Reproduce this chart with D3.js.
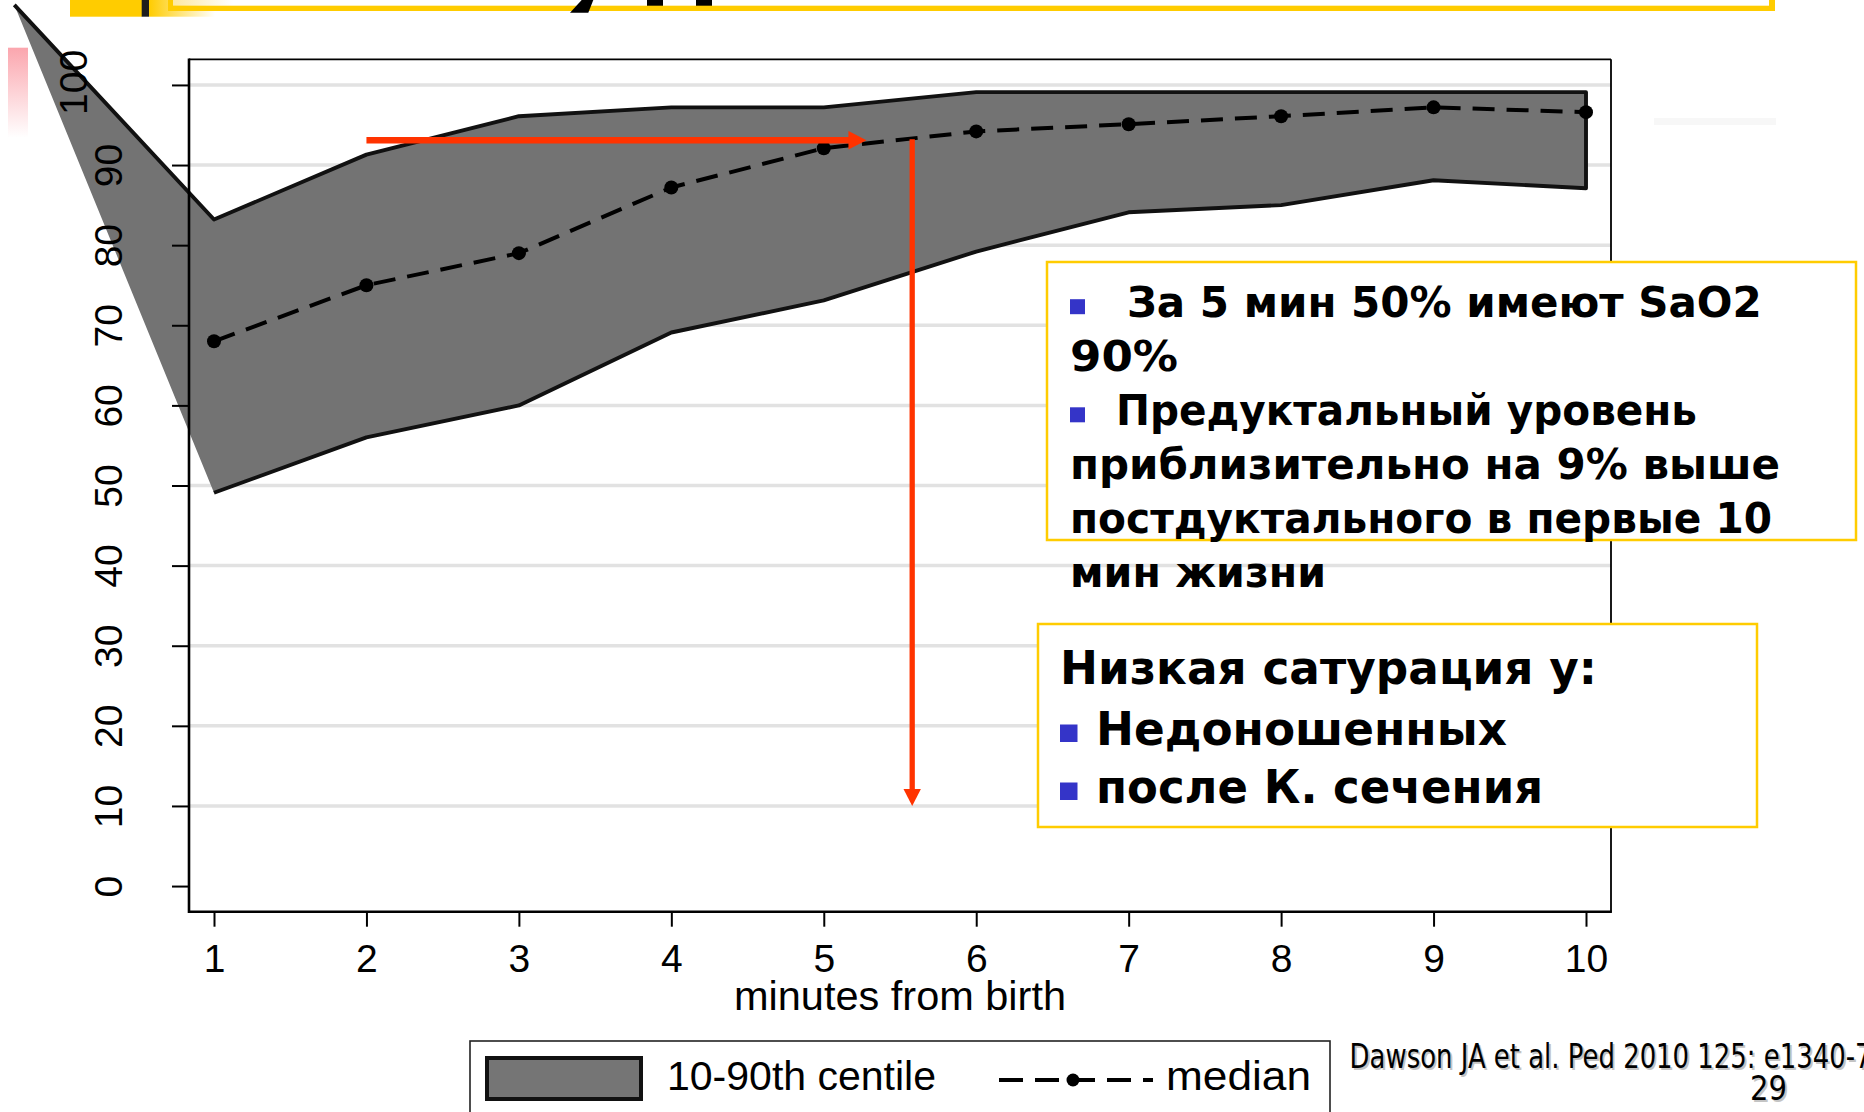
<!DOCTYPE html>
<html>
<head>
<meta charset="utf-8">
<script src="https://cdn.jsdelivr.net/npm/d3@7"></script>
<style>
  html, body { margin: 0; padding: 0; background: #fff; }
  svg { display: block; }
</style>
</head>
<body>
<svg id="chart" width="1864" height="1112"></svg>
<script>
// ---- data: SpO2 (%) by minute after birth ----
const minutes   = [1, 2, 3, 4, 5, 6, 7, 8, 9, 10];
const centile90 = [83.2, 91.3, 96.1, 97.2, 97.2, 99.1, 99.1, 99.1, 99.1, 99.1];
const centile10 = [49.1, 56.0, 60.0, 69.1, 73.1, 79.2, 84.1, 85.0, 88.1, 87.1];
const median    = [68.0, 75.0, 79.0, 87.2, 92.1, 94.2, 95.1, 96.1, 97.2, 96.6];
// leading vertex of the centile band (lies outside the axis range)
const bandApex  = { minute: -0.31, value: 110 };

const yTicks = [0, 10, 20, 30, 40, 50, 60, 70, 80, 90, 100];
const xTicks = minutes;
const xTitle = "minutes from birth";
const legendLabels = ["10-90th centile", "median"];

// guide arrows: across at the 5-minute median, then down to the axis
const reachArrow = { from: 2, to: 5.28, value: 93.1 };
const dropArrow  = { minute: 5.58, from: 93.1, to: 10 };

// annotation text
const keyFindings = [
  ["За 5 мин 50% имеют SaO2", "90%"],
  ["Предуктальный уровень", "приблизительно на 9% выше", "постдуктального в первые 10", "мин жизни"]
];
const lowSatTitle = "Низкая сатурация у:";
const lowSatItems = ["Недоношенных", "после К. сечения"];
const citation = "Dawson JA et al. Ped 2010 125: e1340-7";
const pageNumber = "29";

// ---- layout ----
const svg = d3.select("#chart");
const plot = { left: 189, right: 1611, top: 59.3, bottom: 911.7 };
const AXIS_FONT = "'Liberation Sans', Arial, Helvetica, sans-serif";
const NOTE_FONT = "'DejaVu Sans', Verdana, Tahoma, sans-serif";
const RED = "#ff3300";
const YELLOW = "#ffcc00";
const BLUE = "#3434c8";

const x = d3.scaleLinear().domain([0.836, 10.164]).range([plot.left, plot.right]);
const y = d3.scaleLinear().domain([-3.2, 103.2]).range([plot.bottom, plot.top]);

function fit(sel, target) {
  sel.each(function () {
    const w = this.getComputedTextLength();
    if (Math.abs(w - target) / target > 0.015) {
      d3.select(this).attr("textLength", target).attr("lengthAdjust", "spacingAndGlyphs");
    }
  });
}

const defs = svg.append("defs");
const g1 = defs.append("linearGradient").attr("id", "yellowFade").attr("x1", 0).attr("x2", 1).attr("y1", 0).attr("y2", 0);
g1.append("stop").attr("offset", 0).attr("stop-color", YELLOW);
g1.append("stop").attr("offset", 1).attr("stop-color", "#fff");
const g2 = defs.append("linearGradient").attr("id", "paleFade").attr("x1", 0).attr("x2", 1).attr("y1", 0).attr("y2", 0);
g2.append("stop").attr("offset", 0).attr("stop-color", "#fde8a0");
g2.append("stop").attr("offset", 1).attr("stop-color", "#fff");
const g3 = defs.append("linearGradient").attr("id", "pinkFade").attr("x1", 0).attr("x2", 0).attr("y1", 0).attr("y2", 1);
g3.append("stop").attr("offset", 0).attr("stop-color", "#fba6ae");
g3.append("stop").attr("offset", 1).attr("stop-color", "#fff");

// ---- slide header strip ----
const header = svg.append("g");
header.append("rect").attr("x", 70).attr("y", 0).attr("width", 72).attr("height", 16.7).attr("fill", YELLOW);
header.append("rect").attr("x", 141.7).attr("y", 0).attr("width", 7.3).attr("height", 16.7).attr("fill", "#1c1c1c");
header.append("rect").attr("x", 149).attr("y", 0).attr("width", 66).attr("height", 16.7).attr("fill", "url(#yellowFade)");
header.append("rect").attr("x", 173).attr("y", 0).attr("width", 60).attr("height", 5.7).attr("fill", "url(#paleFade)");
header.append("rect").attr("x", 647).attr("y", 0).attr("width", 16).attr("height", 6).attr("fill", "#000");
header.append("rect").attr("x", 696).attr("y", 0).attr("width", 16).attr("height", 6).attr("fill", "#000");
header.append("rect").attr("x", 168).attr("y", 0).attr("width", 5).attr("height", 11).attr("fill", YELLOW);
header.append("rect").attr("x", 168).attr("y", 5.7).attr("width", 1607).attr("height", 5.3).attr("fill", YELLOW);
header.append("rect").attr("x", 1769).attr("y", 0).attr("width", 6).attr("height", 11).attr("fill", YELLOW);
header.append("polygon").attr("points", "581.7,0 593.3,0 588.3,12.7 570,12.7").attr("fill", "#000");
svg.append("rect").attr("x", 8).attr("y", 47.7).attr("width", 20).attr("height", 90).attr("fill", "url(#pinkFade)");
svg.append("rect").attr("x", 1654).attr("y", 118).attr("width", 122).attr("height", 7).attr("fill", "#f7f7f7");

// ---- gridlines ----
svg.append("g").selectAll("line")
  .data(yTicks.filter(v => v > 0))
  .join("line")
  .attr("x1", plot.left).attr("x2", plot.right)
  .attr("y1", d => y(d)).attr("y2", d => y(d))
  .attr("stroke", "#e2e2e2").attr("stroke-width", 3.5);

// ---- 10-90th centile band ----
const upper = minutes.map((m, i) => [m, centile90[i]]);
const lower = minutes.map((m, i) => [m, centile10[i]]);
const bandPts = [[bandApex.minute, bandApex.value], ...upper, ...lower.slice().reverse()];
const line = d3.line().x(d => x(d[0])).y(d => y(d[1]));
svg.append("path").attr("d", line(bandPts) + "Z").attr("fill", "#737373");
svg.append("path").attr("d", line(bandPts))
  .attr("fill", "none").attr("stroke", "#111").attr("stroke-width", 3.9)
  .attr("stroke-linejoin", "round");

// ---- axes ----
const gy = svg.append("g").attr("transform", `translate(${plot.left},0)`)
  .call(d3.axisLeft(y).tickValues(yTicks).tickSize(17).tickSizeOuter(0).tickFormat(d3.format("d")));
gy.select(".domain").remove();
gy.selectAll(".tick line").attr("stroke", "#000").attr("stroke-width", 2);
gy.selectAll(".tick text")
  .attr("transform", "rotate(-90)")
  .attr("x", d => d === 100 ? 3 : 0)
  .attr("y", d => d === 100 ? -102 : -67)
  .attr("dy", 0)
  .attr("text-anchor", "middle")
  .attr("font-family", AXIS_FONT).attr("font-size", 39).attr("fill", "#000");

const gx = svg.append("g").attr("transform", `translate(0,${plot.bottom})`)
  .call(d3.axisBottom(x).tickValues(xTicks).tickSize(15).tickSizeOuter(0).tickFormat(d3.format("d")));
gx.select(".domain").remove();
gx.selectAll(".tick line").attr("stroke", "#000").attr("stroke-width", 2);
gx.selectAll(".tick text")
  .attr("y", 60).attr("dy", 0)
  .attr("font-family", AXIS_FONT).attr("font-size", 39).attr("fill", "#000");

// plot frame
const frame = svg.append("g").attr("stroke", "#000").attr("fill", "none");
frame.append("line").attr("x1", plot.left).attr("x2", plot.right).attr("y1", plot.top).attr("y2", plot.top).attr("stroke-width", 1.8);
frame.append("line").attr("x1", plot.right).attr("x2", plot.right).attr("y1", plot.top).attr("y2", plot.bottom).attr("stroke-width", 1.8);
frame.append("line").attr("x1", plot.left).attr("x2", plot.left).attr("y1", plot.top - 0.9).attr("y2", plot.bottom + 1.2).attr("stroke-width", 2.6);
frame.append("line").attr("x1", plot.left).attr("x2", plot.right + 0.9).attr("y1", plot.bottom).attr("y2", plot.bottom).attr("stroke-width", 2.6);

svg.append("text").attr("x", (plot.left + plot.right) / 2).attr("y", 1010)
  .attr("text-anchor", "middle").attr("font-family", AXIS_FONT).attr("font-size", 40)
  .text(xTitle).call(fit, 332);

// ---- median ----
const medPts = minutes.map((m, i) => [m, median[i]]);
svg.append("path").attr("d", line(medPts))
  .attr("fill", "none").attr("stroke", "#000").attr("stroke-width", 4)
  .attr("stroke-dasharray", "22,12");
svg.append("g").selectAll("circle").data(medPts).join("circle")
  .attr("cx", d => x(d[0])).attr("cy", d => y(d[1])).attr("r", 7).attr("fill", "#000");

// ---- guide arrows ----
const arrows = svg.append("g");
const hx2 = x(reachArrow.to), hy = y(reachArrow.value);
arrows.append("line").attr("x1", x(reachArrow.from)).attr("x2", hx2 - 14).attr("y1", hy).attr("y2", hy)
  .attr("stroke", RED).attr("stroke-width", 6.6);
arrows.append("polygon")
  .attr("points", `${hx2},${hy} ${hx2 - 18},${hy - 9.2} ${hx2 - 18},${hy + 9.2}`).attr("fill", RED);
const vx = x(dropArrow.minute), vy2 = y(dropArrow.to);
arrows.append("line").attr("x1", vx).attr("x2", vx).attr("y1", y(dropArrow.from) - 1).attr("y2", vy2 - 14)
  .attr("stroke", RED).attr("stroke-width", 5.3);
arrows.append("polygon")
  .attr("points", `${vx},${vy2} ${vx - 8.7},${vy2 - 17} ${vx + 8.7},${vy2 - 17}`).attr("fill", RED);

// ---- annotation boxes ----
const note1 = svg.append("g");
note1.append("rect").attr("x", 1047).attr("y", 262).attr("width", 809).attr("height", 278)
  .attr("fill", "#fff").attr("stroke", YELLOW).attr("stroke-width", 2.5);
const lineWidths = [[636, 108], [581, 706, 702, 256]];
const firstX = [1127, 1116];
let row = 0;
keyFindings.forEach((para, p) => {
  para.forEach((txt, k) => {
    const base = 316.7 + row * 54.05;
    if (k === 0) {
      note1.append("rect").attr("x", 1070).attr("y", base - 17.5).attr("width", 15).attr("height", 15).attr("fill", BLUE);
    }
    note1.append("text").attr("x", k === 0 ? firstX[p] : 1070).attr("y", base)
      .attr("font-family", NOTE_FONT).attr("font-weight", "bold").attr("font-size", 42).attr("fill", "#000")
      .text(txt).call(fit, lineWidths[p][k]);
    row++;
  });
});

const note2 = svg.append("g");
note2.append("rect").attr("x", 1038).attr("y", 624).attr("width", 719).attr("height", 203)
  .attr("fill", "#fff").attr("stroke", YELLOW).attr("stroke-width", 2.5);
note2.append("text").attr("x", 1060).attr("y", 684)
  .attr("font-family", NOTE_FONT).attr("font-weight", "bold").attr("font-size", 47).attr("fill", "#000")
  .text(lowSatTitle).call(fit, 537);
const itemWidths = [411, 447];
lowSatItems.forEach((txt, i) => {
  const base = 745 + i * 58;
  note2.append("rect").attr("x", 1060).attr("y", base - 20.5).attr("width", 17.5).attr("height", 17.5).attr("fill", BLUE);
  note2.append("text").attr("x", 1096).attr("y", base)
    .attr("font-family", NOTE_FONT).attr("font-weight", "bold").attr("font-size", 47).attr("fill", "#000")
    .text(txt).call(fit, itemWidths[i]);
});

// ---- legend ----
const legend = svg.append("g");
legend.append("rect").attr("x", 470).attr("y", 1041).attr("width", 860).attr("height", 110)
  .attr("fill", "#fff").attr("stroke", "#222").attr("stroke-width", 1.6);
legend.append("rect").attr("x", 487).attr("y", 1058).attr("width", 154).attr("height", 41)
  .attr("fill", "#757575").attr("stroke", "#111").attr("stroke-width", 4);
legend.append("text").attr("x", 667).attr("y", 1090)
  .attr("font-family", AXIS_FONT).attr("font-size", 40).text(legendLabels[0]).call(fit, 269);
legend.append("line").attr("x1", 999).attr("x2", 1153).attr("y1", 1080).attr("y2", 1080)
  .attr("stroke", "#000").attr("stroke-width", 4).attr("stroke-dasharray", "24,12");
legend.append("circle").attr("cx", 1073).attr("cy", 1080).attr("r", 6.5).attr("fill", "#000");
legend.append("text").attr("x", 1166).attr("y", 1090)
  .attr("font-family", AXIS_FONT).attr("font-size", 40).text(legendLabels[1]).call(fit, 145);

// ---- footer ----
const footer = svg.append("g").attr("font-family", NOTE_FONT).attr("font-size", 34);
footer.append("text").attr("x", 1351.5).attr("y", 1070).attr("fill", "#c4c4c4").text(citation).call(fit, 522);
footer.append("text").attr("x", 1349.6).attr("y", 1068).attr("fill", "#000").text(citation).call(fit, 522);
footer.append("text").attr("x", 1770.5).attr("y", 1102).attr("text-anchor", "middle").attr("fill", "#c4c4c4").text(pageNumber).call(fit, 37);
footer.append("text").attr("x", 1768.5).attr("y", 1100).attr("text-anchor", "middle").attr("fill", "#000").text(pageNumber).call(fit, 37);
</script>
</body>
</html>
